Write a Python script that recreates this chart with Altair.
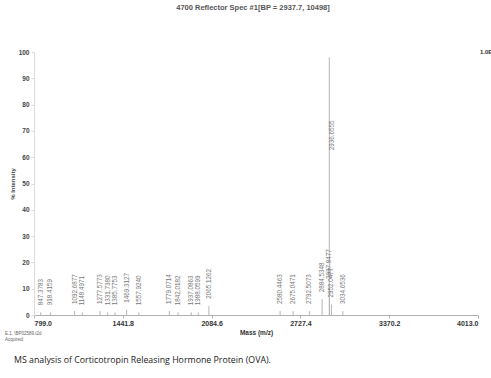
import altair as alt
import pandas as pd

# Peak list (m/z, % intensity)
masses = [847.3783, 918.4159, 1092.6877, 1148.4971, 1277.5773, 1331.7380, 1385.7753,
          1469.3127, 1557.9240, 1779.0714, 1842.0182, 1937.0863, 1988.0599, 2065.1262,
          2580.4463, 2675.0471, 2792.5073, 2884.5348, 2937.8477, 2952.0477, 3034.6536,
          2936.6555]
intensity = [1.0, 1.0, 1.5, 1.0, 1.5, 1.0, 1.0,
             2.0, 1.0, 1.5, 1.0, 1.0, 1.0, 3.5,
             1.5, 1.5, 1.5, 6.0, 11.0, 4.0, 1.5,
             98.0]
is_base = [False] * 21 + [True]

x_ticks = [799.0, 1441.8, 2084.6, 2727.4, 3370.2, 4013.0]
y_ticks = [0, 10, 20, 30, 40, 50, 60, 70, 80, 90, 100]

title_text = "4700 Reflector Spec #1[BP = 2937.7, 10498]"
caption_text = "MS analysis of Corticotropin Releasing Hormone Protein (OVA)."
file_text = "E.1. \\BP02589.t2d"
acq_text = "Acquired:"
right_text = "1.0E+4"

df = pd.DataFrame({
    "mass": masses,
    "intensity": intensity,
    "label": [f"{m:.4f}" for m in masses],
    "base": is_base,
})

W, H = 444, 263
FONT = "Liberation Sans"

xs = alt.Scale(domain=[799.0, 4013.0], nice=False, zero=False)
ys = alt.Scale(domain=[0, 100], nice=False)

x_axis = alt.Axis(values=x_ticks, format=".1f", title="Mass (m/z)",
                  labelFont=FONT, labelFontSize=7, labelFontWeight="bold",
                  labelColor="#333", titleFont=FONT, titleFontSize=6.5,
                  titleFontWeight="bold", titleColor="#333", titlePadding=3,
                  domainColor="#b0b0b0", tickColor="#b0b0b0", tickSize=3,
                  grid=False, labelPadding=1, labelOverlap=False)
y_axis = alt.Axis(values=y_ticks, title="% Intensity", labelFont=FONT,
                  labelFontSize=6.5, labelFontWeight="bold", labelColor="#444",
                  titleFont=FONT, titleFontSize=6, titleColor="#444",
                  titlePadding=3, domainColor="#dddddd", tickColor="#dddddd",
                  tickSize=3, grid=False, labelPadding=2, labelOverlap=False)

X = alt.X("mass:Q", scale=xs, axis=x_axis)
Y = alt.Y("intensity:Q", scale=ys, axis=y_axis)

base = alt.Chart(df)

peaks = base.mark_rule(color="#b5b5b5", strokeWidth=1).encode(
    x=X, y=Y, y2=alt.datum(0))

labels = base.transform_filter("!datum.base").mark_text(
    angle=270, align="left", baseline="middle", dx=7, font=FONT, fontSize=6.3,
    color="#777").encode(x=X, y=Y, text="label:N")

base_label = base.transform_filter("datum.base").mark_text(
    angle=270, align="left", baseline="middle", dx=-93, dy=3, font=FONT,
    fontSize=6.3, color="#777").encode(x=X, y=Y, text="label:N")

def note(txt, x, y, size, weight="normal", color="#444", align="left", font=FONT):
    return alt.Chart(pd.DataFrame({"t": [txt]})).mark_text(
        align=align, baseline="middle", fontSize=size, fontWeight=weight,
        color=color, font=font).encode(
        x=alt.value(x), y=alt.value(y), text="t:N")

title = note(title_text, 219, -44, 7.5, "bold", "#555", "center")
right = note(right_text, 446, 0, 6, "bold", "#333")
fname = note(file_text, -29, 282, 4.5, "normal", "#666")
acq = note(acq_text, -29, 288, 4.5, "normal", "#666")
caption = note(caption_text, -20, 308, 8.8, "normal", "#222", "left", "Open Sans")

chart = alt.layer(peaks, labels, base_label, title, right, fname, acq, caption).properties(
    width=W, height=H,
    padding={"left": 34, "top": 52, "right": 13, "bottom": 63},
    autosize=alt.AutoSizeParams(type="none"),
    background="white",
).configure_view(stroke=None)

chart.save("out.html", embed_options={"renderer": "svg", "actions": False})
